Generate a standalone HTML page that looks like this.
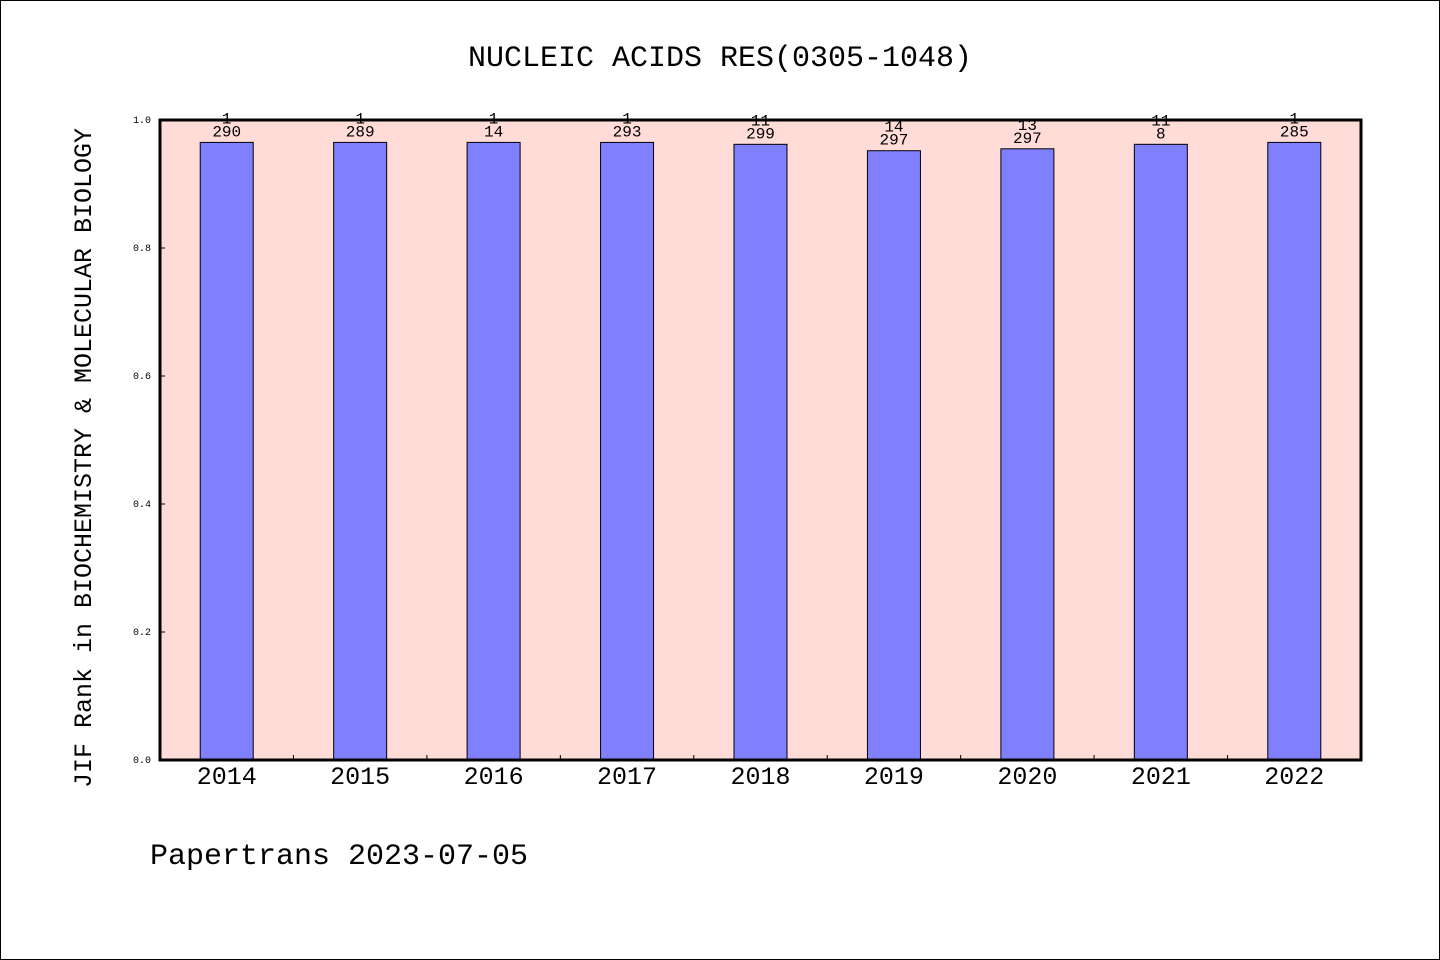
<!DOCTYPE html>
<html><head><meta charset="utf-8"><style>
body{margin:0;background:#fff}
svg{display:block}
text{font-family:"Liberation Mono","DejaVu Sans Mono",monospace;fill:#000}
</style></head><body>
<svg id="chart" width="1440" height="960" viewBox="0 0 1440 960">
<rect x="0.5" y="0.5" width="1439" height="959" fill="#fff" stroke="#000"/>
<text x="720" y="66" font-size="30" text-anchor="middle">NUCLEIC ACIDS RES(0305-1048)</text>
<rect x="160" y="120" width="1201" height="640" fill="#ffdcd8"/>
<g id="bars"></g>
<rect x="160" y="120" width="1201" height="640" fill="none" stroke="#000" stroke-width="3"/>
<g id="axes"></g>
<text transform="translate(91,458) rotate(-90)" font-size="25" text-anchor="middle">JIF Rank in BIOCHEMISTRY &amp; MOLECULAR BIOLOGY</text>
<text x="150" y="864" font-size="30">Papertrans 2023-07-05</text>
</svg>
<script>
const categories=["2014","2015","2016","2017","2018","2019","2020","2021","2022"];
const values=[0.965,0.965,0.965,0.965,0.962,0.952,0.955,0.962,0.965];
const rankLabels=["1","1","1","1","11","14","13","11","1"];
const totalLabels=["290","289","14","293","299","297","297","8","285"];
const yTicks=[0,0.2,0.4,0.6,0.8,1.0];
const yTickLabels=["0.0","0.2","0.4","0.6","0.8","1.0"];
const NS="http://www.w3.org/2000/svg";
const X0=160,W=1201,Y0=760,H=640;
const band=W/categories.length;
const xC=i=>X0+band*(i+0.5);
const yS=v=>Y0-v*H;
function mk(tag,attrs,parent){const e=document.createElementNS(NS,tag);for(const k in attrs)e.setAttribute(k,attrs[k]);parent.appendChild(e);return e;}
const bars=document.getElementById('bars'),axes=document.getElementById('axes');
values.forEach((v,i)=>{
  const bw=53,top=yS(v);
  const r=mk('rect',{x:xC(i)-bw/2,y:top,width:bw,height:Y0-top,fill:'#8080ff',stroke:'#000','stroke-width':1},bars);
  
  
  const t1=mk('text',{x:xC(i),y:top-19,'font-size':16,'text-anchor':'middle'},bars);t1.textContent=rankLabels[i];
  
  
  const t2=mk('text',{x:xC(i),y:top-6,'font-size':16,'text-anchor':'middle'},bars);t2.textContent=totalLabels[i];
  
  
  const xl=mk('text',{x:xC(i),y:784,'font-size':25,'text-anchor':'middle'},axes);xl.textContent=categories[i];
  
  
  if(i>0){const tk=mk('line',{x1:X0+band*i,x2:X0+band*i,y1:Y0,y2:Y0-5,stroke:'#000'},axes);
  
  }
});
yTicks.forEach((v,i)=>{
  const tk=mk('line',{x1:X0,x2:X0+5,y1:yS(v),y2:yS(v),stroke:'#000'},axes);
  
  
  const t=mk('text',{x:151,y:yS(v)+3,'font-size':10,'text-anchor':'end'},axes);t.textContent=yTickLabels[i];
  
  
});
</script>
</body></html>
